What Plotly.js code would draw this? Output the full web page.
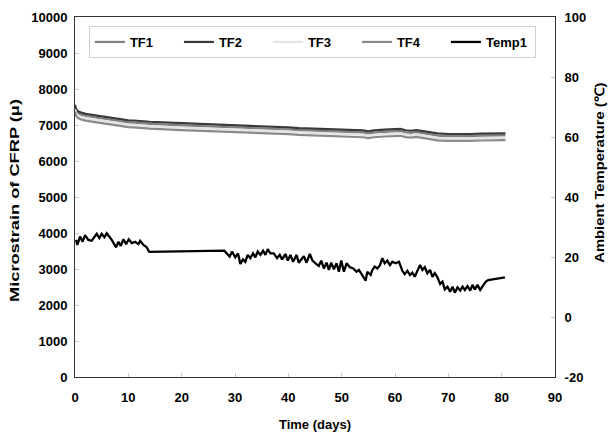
<!DOCTYPE html>
<html>
<head>
<meta charset="utf-8">
<script src="https://cdn.plot.ly/plotly-3.0.1.min.js"></script>
<style>html,body{margin:0;padding:0;background:#fff;}#chart{width:608px;height:432px;}</style>
</head>
<body>
<div id="chart"></div>
<script>
// Strain gauges (microstrain) vs time (days)
const tfDays = [0, 0.2, 0.5, 1, 2, 3, 4, 5, 6, 7, 8, 9, 10, 11, 12, 13, 14, 20, 28, 30, 32, 34, 36, 38, 40, 42, 44, 46, 48, 50, 52, 54, 55, 56, 58, 60, 61, 62, 63, 64, 65, 66, 67, 68, 70, 72, 74, 76, 78, 80, 80.7];
const tf2 = [7560, 7450, 7390, 7350, 7310, 7280, 7260, 7240, 7220, 7200, 7170, 7140, 7130, 7125, 7120, 7115, 7090, 7050, 7010, 7000, 6985, 6975, 6970, 6955, 6935, 6915, 6905, 6895, 6880, 6865, 6870, 6850, 6825, 6850, 6870, 6890, 6890, 6855, 6840, 6860, 6840, 6810, 6790, 6765, 6750, 6745, 6750, 6760, 6765, 6770, 6770];
const tf1 = [7500, 7390, 7330, 7290, 7250, 7220, 7200, 7180, 7160, 7140, 7110, 7080, 7070, 7065, 7060, 7055, 7030, 6990, 6950, 6940, 6925, 6915, 6910, 6895, 6875, 6855, 6845, 6835, 6820, 6805, 6810, 6790, 6765, 6790, 6810, 6830, 6830, 6795, 6780, 6800, 6780, 6750, 6730, 6705, 6690, 6685, 6690, 6700, 6705, 6710, 6710];
const tf3 = [7440, 7330, 7270, 7230, 7190, 7160, 7140, 7120, 7100, 7080, 7050, 7020, 7010, 7005, 7000, 6995, 6970, 6930, 6890, 6880, 6865, 6855, 6850, 6835, 6815, 6795, 6785, 6775, 6760, 6745, 6750, 6730, 6705, 6730, 6750, 6770, 6770, 6735, 6720, 6740, 6720, 6690, 6670, 6645, 6630, 6625, 6630, 6640, 6645, 6650, 6650];
const tf4 = [7370, 7260, 7200, 7160, 7120, 7090, 7070, 7050, 7030, 7010, 6980, 6950, 6940, 6935, 6930, 6925, 6900, 6860, 6820, 6810, 6795, 6785, 6780, 6765, 6745, 6725, 6715, 6705, 6690, 6675, 6680, 6660, 6635, 6660, 6680, 6700, 6700, 6665, 6650, 6670, 6650, 6620, 6600, 6575, 6560, 6555, 6560, 6570, 6575, 6580, 6580];

// Ambient temperature (deg C) vs time (days)
const tempDays = [0.19, 0.44, 0.94, 1.44, 1.88, 2.5, 3.13, 4.07, 4.57, 5.01, 5.51, 5.95, 6.89, 7.70, 8.14, 8.58, 9.08, 9.58, 10.08, 10.65, 11.27, 11.9, 12.21, 12.84, 13.47, 13.9,
  28.0, 28.5, 29.0, 29.44, 30.06, 30.57, 31.0, 31.5, 31.94, 32.38, 32.88, 33.38, 33.82, 34.26, 34.76, 35.26, 35.7, 36.14, 36.64, 37.27, 37.89, 38.39, 38.83, 39.46, 39.9, 40.4, 40.9, 41.53, 41.96,
  42.9, 43.41, 44.03, 44.53, 45.1, 45.72, 46.16, 46.66, 47.17, 47.6, 48.04, 48.54, 49.04, 49.48, 49.92, 50.42, 50.92, 51.55, 52.17, 52.8, 53.24, 53.87, 54.49, 54.81, 55.44, 55.75, 56.19, 56.69, 57.19, 57.63, 58.06, 58.56, 59.06, 59.5, 60.13, 60.75, 61.38, 61.82, 62.32, 62.82, 63.26, 63.7, 64.2, 64.7, 65.14, 65.58, 66.08, 66.58, 67.02, 67.46, 67.96, 68.46, 68.9, 69.34, 69.84, 70.34, 70.78, 71.22, 71.72, 72.22, 72.66, 73.09, 73.59, 74.1, 74.53, 74.97, 75.47, 75.97, 76.6, 77.04, 77.48, 80.61];
const temp1 = [25.7, 24.0, 26.8, 25.1, 27.3, 25.7, 25.4, 27.7, 26.3, 27.7, 26.6, 27.9, 25.7, 23.2, 25.1, 23.7, 25.9, 24.3, 25.9, 24.6, 25.1, 24.3, 25.4, 24.0, 23.2, 21.7,
  22.1, 21.2, 20.1, 21.8, 19.9, 21.2, 17.7, 19.2, 18.4, 20.7, 19.6, 21.2, 19.9, 21.8, 20.7, 22.1, 20.7, 22.6, 21.2, 21.2, 19.6, 20.7, 19.2, 21.0, 18.8, 20.7, 18.4, 20.7, 18.1,
  20.3, 18.1, 21.0, 18.8, 17.9, 17.0, 18.8, 16.2, 18.1, 15.7, 18.1, 15.9, 17.9, 15.1, 18.8, 15.1, 17.9, 16.6, 16.2, 15.1, 15.7, 14.0, 12.1, 15.1, 14.0, 15.7, 16.8, 16.2, 17.3, 19.6, 17.9, 18.8, 17.3, 18.4, 17.9, 18.4, 15.4, 14.3, 15.4, 14.0, 14.8, 13.4, 15.1, 17.3, 15.7, 16.6, 14.6, 15.7, 13.4, 14.6, 13.2, 11.0, 11.8, 9.2, 10.1, 8.4, 10.1, 8.1, 9.9, 8.8, 10.1, 9.0, 10.3, 8.8, 10.7, 9.2, 10.7, 9.0, 10.7, 11.8, 12.3, 13.2];

const xTicks = [0, 10, 20, 30, 40, 50, 60, 70, 80, 90];
const yTicks = [0, 1000, 2000, 3000, 4000, 5000, 6000, 7000, 8000, 9000, 10000];
const y2Ticks = [-20, 0, 20, 40, 60, 80, 100];

const xTitle = 'Time (days)';
const yTitle = 'Microstrain of CFRP (μ)';
const y2Title = 'Ambient Temperature (℃)';

const FONT = 'Arial, "Liberation Sans", sans-serif';

const traces = [
  {name: 'TF1', x: tfDays, y: tf1, mode: 'lines', line: {color: '#808080', width: 2.2}},
  {name: 'TF2', x: tfDays, y: tf2, mode: 'lines', line: {color: '#3a3a3a', width: 2.2}},
  {name: 'TF3', x: tfDays, y: tf3, mode: 'lines', line: {color: '#e4e4e4', width: 2.2}},
  {name: 'TF4', x: tfDays, y: tf4, mode: 'lines', line: {color: '#8a8a8a', width: 2.2}},
  {name: 'Temp1', x: tempDays, y: temp1, yaxis: 'y2', mode: 'lines', line: {color: '#000000', width: 2.3}}
];

const axisCommon = {
  showgrid: false, zeroline: false, showline: true, linecolor: '#333', linewidth: 1,
  ticks: 'inside', ticklen: 4, tickcolor: '#c8c8c8',
  tickfont: {family: FONT, size: 13, weight: 'bold', color: '#000'}
};

const layout = {
  width: 608, height: 432,
  margin: {l: 75, r: 53, t: 17, b: 55},
  paper_bgcolor: '#fff', plot_bgcolor: '#fff',
  font: {family: FONT, size: 13, color: '#000', weight: 'bold'},
  showlegend: true,
  legend: {
    orientation: 'h', x: 0.029, y: 0.975, xanchor: 'left', yanchor: 'top',
    bordercolor: '#d0d0d0', borderwidth: 1, bgcolor: '#fff',
    entrywidth: 44, entrywidthmode: 'pixels', itemwidth: 30,
    font: {family: FONT, size: 13, weight: 'bold', color: '#000'}
  },
  xaxis: Object.assign({}, axisCommon, {
    range: [0, 90], tickvals: xTicks, ticktext: xTicks.map(String), mirror: true, ticklabelstandoff: 8,
    title: {text: xTitle, font: {family: FONT, size: 13, weight: 'bold'}, standoff: 16}
  }),
  yaxis: Object.assign({}, axisCommon, {
    range: [0, 10000], tickvals: yTicks, ticktext: yTicks.map(String), ticklabelstandoff: 4
  }),
  yaxis2: Object.assign({}, axisCommon, {
    range: [-20, 100], tickvals: y2Ticks, ticktext: y2Ticks.map(String), overlaying: 'y', side: 'right', ticklabelstandoff: 6
  }),
  annotations: [
    {text: yTitle, xref: 'paper', yref: 'paper', x: -0.125, y: 0.489, xanchor: 'center', yanchor: 'middle',
     textangle: -90, showarrow: false, font: {family: FONT, size: 13, weight: 'bold', color: '#000'}},
    {text: y2Title, xref: 'paper', yref: 'paper', x: 1.094, y: 0.567, xanchor: 'center', yanchor: 'middle',
     textangle: -90, showarrow: false, font: {family: FONT, size: 13, weight: 'bold', color: '#000'}}
  ]
};

Plotly.newPlot('chart', traces, layout, {displayModeBar: false, staticPlot: true}).then(function () {
  // stretch the rotated titles along their length to match the reference proportions
  const lens = [203, 180];
  document.querySelectorAll('#chart .annotation-text').forEach(function (t, i) {
    if (lens[i]) {
      t.setAttribute('textLength', lens[i]);
      t.setAttribute('lengthAdjust', 'spacingAndGlyphs');
    }
  });
});
</script>
</body>
</html>
